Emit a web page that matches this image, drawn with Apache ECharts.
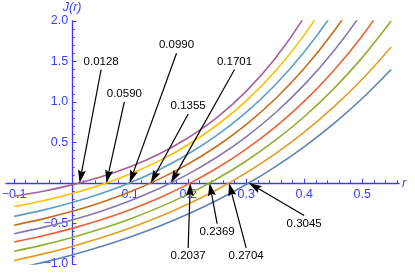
<!DOCTYPE html>
<html>
<head>
<meta charset="utf-8">
<script src="https://cdn.jsdelivr.net/npm/echarts@6/dist/echarts.min.js"></script>
<style>html,body{margin:0;padding:0;background:#fff;}#c{width:415px;height:273px;}</style>
</head>
<body>
<div id="c"></div>
<script>
// sample positions r
const rValues = [-0.1,-0.05,0,0.05,0.1,0.15,0.2,0.25,0.3,0.35,0.4,0.45,0.5,0.55];
// J(r) curves (bottom curve first)
const j1 = [-1.061,-0.980,-0.888,-0.784,-0.666,-0.533,-0.382,-0.212,-0.019,0.200,0.447,0.726,1.043,1.401];
const j2 = [-0.957,-0.875,-0.783,-0.677,-0.556,-0.418,-0.260,-0.081,0.125,0.359,0.627,0.933,1.281,1.680];
const j3 = [-0.843,-0.764,-0.672,-0.566,-0.443,-0.301,-0.137,0.052,0.272,0.525,0.818,1.156,1.548,2.000];
const j4 = [-0.729,-0.651,-0.560,-0.454,-0.329,-0.184,-0.014,0.185,0.418,0.690,1.008,1.380,1.815,2.324];
const j5 = [-0.626,-0.548,-0.456,-0.348,-0.219,-0.068,0.110,0.321,0.570,0.864,1.211,1.620,2.104,2.674];
const j6 = [-0.521,-0.443,-0.350,-0.240,-0.108,0.048,0.235,0.457,0.722,1.037,1.413,1.860,2.393,3.030];
const j7 = [-0.412,-0.335,-0.242,-0.131,0.003,0.164,0.358,0.591,0.872,1.210,1.616,2.105,2.693,3.400];
const j8 = [-0.291,-0.219,-0.130,-0.022,0.111,0.273,0.472,0.716,1.014,1.379,1.826,2.374,3.040,3.870];
const j9 = [-0.163,-0.101,-0.023,0.076,0.201,0.359,0.559,0.811,1.131,1.536,2.048,2.695,3.514,4.550];
const curves = [j1,j2,j3,j4,j5,j6,j7,j8,j9];
// zero crossings (annotated)
const zeros = [0.3045,0.2704,0.2369,0.2037,0.1701,0.1355,0.0990,0.0590,0.0128];
// tick values
const xTickLabels = [-0.1,0.1,0.2,0.3,0.4,0.5];
const xTickMarks = [-0.1,0,0.1,0.2,0.3,0.4,0.5];
const yTickLabels = [-1,-0.5,0.5,1,1.5,2];
const yTickMarks = [-1,-0.5,0,0.5,1,1.5,2];

// layout: annotation text anchors (data coords)
const labelPos = [[0.4,-0.5],[0.3,-0.9],[0.25,-0.6],[0.2,-0.9],[0.28,1.5],[0.2,0.95],[0.18,1.7],[0.09,1.1],[0.05,1.5]];
const colors = ['#5E81B5','#E19C24','#8FB032','#EB6235','#8778B3','#C56E1A','#5D9EC7','#FFBF00','#A5609D'];
const BLUE = '#3c3cff';
const FONT = '"Liberation Sans", Arial, sans-serif';

const GRID = { left: 6, right: 16, top: 21, bottom: 9 };
const X_MIN = -0.114, X_MAX = 0.5635, Y_MIN = -1, Y_MAX = 2;
const W = 415, H = 273;
// axes cross at the origin: shift them inward from the grid edges
const plotW = W - GRID.left - GRID.right, plotH = H - GRID.top - GRID.bottom;
const yAxisShift = (0 - X_MIN) / (X_MAX - X_MIN) * plotW;
const xAxisShift = (0 - Y_MIN) / (Y_MAX - Y_MIN) * plotH;

function fmt(v){ if (Math.abs(v) < 1e-9) return ''; return (v < 0 ? '\u2212' : '') + Math.abs(v).toFixed(1); }

const series = curves.map((c, i) => ({
  type: 'line',
  data: rValues.map((r, k) => [r, c[k]]),
  showSymbol: false,
  smooth: 0.3,
  clip: true,
  lineStyle: { width: 1.6, color: colors[i] },
  itemStyle: { color: colors[i] },
  z: 2 + i,
  animation: false
}));

series.push({
  type: 'custom',
  coordinateSystem: 'cartesian2d',
  z: 20,
  animation: false,
  data: zeros.map((z, i) => [z, labelPos[i][0], labelPos[i][1]]),
  renderItem: function (params, api) {
    const tip = api.coord([api.value(0), 0]);
    const txt = api.coord([api.value(1), api.value(2)]);
    const below = txt[1] > tip[1];
    const tail = [txt[0], txt[1] + (below ? -8 : 8)];
    const dx = tip[0] - tail[0], dy = tip[1] - tail[1];
    const L = Math.sqrt(dx*dx + dy*dy);
    const ux = dx / L, uy = dy / L, px = -uy, py = ux;
    const hl = 13, hw = 4, notch = 2;
    const base = [tip[0] - ux*hl, tip[1] - uy*hl];
    const inner = [tip[0] - ux*(hl-notch), tip[1] - uy*(hl-notch)];
    return {
      type: 'group',
      children: [
        { type: 'line', shape: { x1: tail[0], y1: tail[1], x2: inner[0], y2: inner[1] }, style: { stroke: '#000', lineWidth: 1.2 } },
        { type: 'polygon', shape: { points: [tip, [base[0]+px*hw, base[1]+py*hw], inner, [base[0]-px*hw, base[1]-py*hw]] }, style: { fill: '#000' } },
        { type: 'text', x: txt[0], y: txt[1], style: { text: zeros[params.dataIndex].toFixed(4), fill: '#000', font: '11.5px ' + FONT, align: 'center', verticalAlign: 'middle' } }
      ]
    };
  }
});

const chart = echarts.init(document.getElementById('c'), null, { renderer: 'canvas' });
chart.setOption({
  animation: false,
  backgroundColor: '#fff',
  grid: { left: GRID.left, right: GRID.right, top: GRID.top, bottom: GRID.bottom, containLabel: false, outerBoundsMode: 'none' },
  xAxis: {
    type: 'value', min: X_MIN, max: X_MAX, position: 'bottom', offset: -xAxisShift,
    name: 'r', nameLocation: 'end', nameGap: 3,
    nameTextStyle: { color: BLUE, fontStyle: 'italic', fontSize: 13, fontFamily: FONT },
    axisLine: { onZero: false, lineStyle: { color: BLUE, width: 1.3 } },
    axisTick: { show: true, inside: true, length: 4.3, customValues: xTickMarks, lineStyle: { color: BLUE, width: 1 } },
    minorTick: { show: true, splitNumber: 5, length: 2.7, lineStyle: { color: BLUE, width: 1 } },
    axisLabel: { customValues: xTickLabels, formatter: fmt, color: BLUE, fontSize: 12.5, fontFamily: FONT, margin: 5 },
    splitLine: { show: false }, minorSplitLine: { show: false }
  },
  yAxis: {
    type: 'value', min: Y_MIN, max: Y_MAX, interval: 0.5, position: 'left', offset: -yAxisShift,
    name: 'J(r)', nameLocation: 'end', nameGap: 7,
    nameTextStyle: { color: BLUE, fontStyle: 'italic', fontSize: 12.5, fontFamily: FONT },
    axisLine: { onZero: false, lineStyle: { color: BLUE, width: 1.3 } },
    axisTick: { show: true, inside: true, length: 4.3, customValues: yTickMarks, lineStyle: { color: BLUE, width: 1 } },
    minorTick: { show: true, splitNumber: 5, length: 2.5, lineStyle: { color: BLUE, width: 1 } },
    axisLabel: { customValues: yTickLabels, formatter: fmt, color: BLUE, fontSize: 12.5, fontFamily: FONT, margin: 4 },
    splitLine: { show: false }, minorSplitLine: { show: false }
  },
  series: series
});
</script>
</body>
</html>
